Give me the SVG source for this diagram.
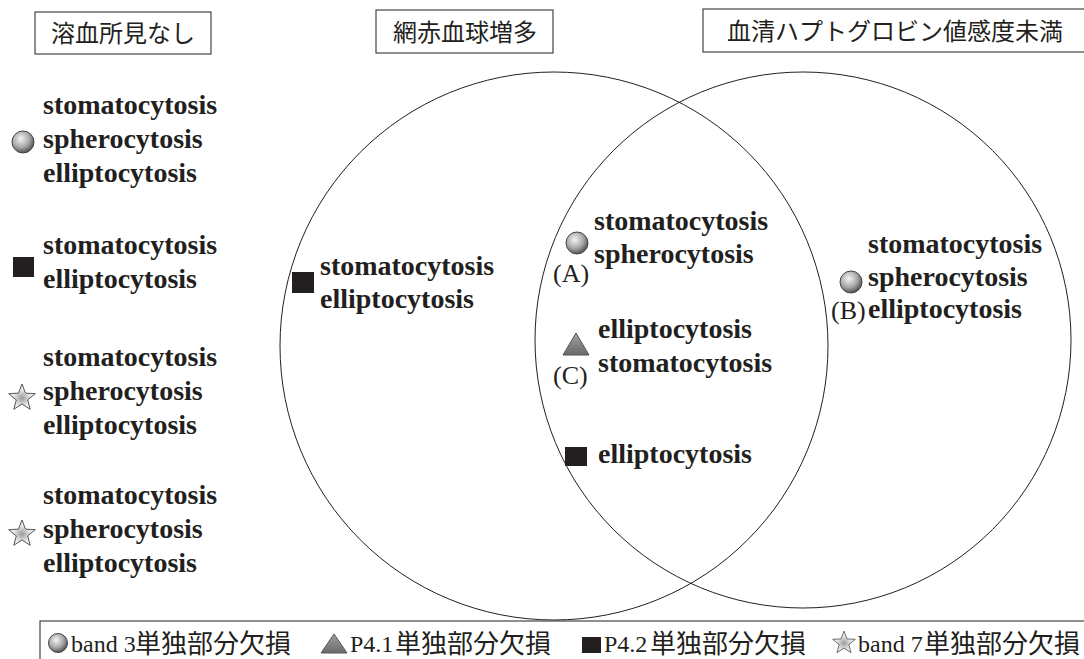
<svg xmlns="http://www.w3.org/2000/svg" width="1084" height="659" viewBox="0 0 1084 659">
<defs>
<radialGradient id="gBall" cx="0.4" cy="0.35" r="0.65">
<stop offset="0" stop-color="#f4f4f4"/>
<stop offset="0.6" stop-color="#a8a8a8"/>
<stop offset="1" stop-color="#555"/>
</radialGradient>
<linearGradient id="gTri" x1="0" y1="0" x2="0" y2="1">
<stop offset="0" stop-color="#a0a0a0"/>
<stop offset="1" stop-color="#6a6a6a"/>
</linearGradient>
<radialGradient id="gStar" cx="0.5" cy="0.55" r="0.5">
<stop offset="0" stop-color="#9c9c9c"/>
<stop offset="0.6" stop-color="#e4e4e4"/>
<stop offset="1" stop-color="#fafafa"/>
</radialGradient>
<circle id="ball" r="11" fill="url(#gBall)" stroke="#444" stroke-width="1"/>
<path id="star" d="M0,-14 L3.53,-4.85 L13.31,-4.33 L5.71,1.85 L8.23,11.33 L0,6 L-8.23,11.33 L-5.71,1.85 L-13.31,-4.33 L-3.53,-4.85 Z" fill="url(#gStar)" stroke="#555" stroke-width="1"/>
</defs>
<style>
.b{font-family:"Liberation Serif",serif;font-weight:bold;font-size:28px;fill:#231f20}
.r{font-family:"Liberation Serif",serif;font-size:26px;fill:#231f20}
.j{font-family:"Noto Sans CJK JP",sans-serif;font-size:24px;fill:#231f20}
.lg{font-family:"Liberation Serif",serif;font-size:24px;fill:#231f20}
.lj{font-family:"Noto Sans CJK JP",sans-serif;font-size:26px;fill:#231f20}
.box{fill:none;stroke:#444;stroke-width:1.2}
.sq{fill:#231f20}
.tri{fill:url(#gTri);stroke:#555;stroke-width:1}
</style>
<rect width="1084" height="659" fill="#fff"/>

<g id="venn-sets" fill="none" stroke="#231f20" stroke-width="1">
<circle cx="554" cy="346" r="274"/>
<circle cx="803" cy="340" r="268"/>
</g>

<g id="header-none">
<rect class="box" x="35" y="12" width="176" height="42"/>
<text class="j" x="123" y="42" text-anchor="middle">溶血所見なし</text>
</g>
<g id="header-retic">
<rect class="box" x="376" y="10" width="177" height="43"/>
<text class="j" x="465" y="41" text-anchor="middle">網赤血球増多</text>
</g>
<g id="header-hapto">
<rect class="box" x="703" y="9" width="390" height="43"/>
<text class="j" x="895" y="40" text-anchor="middle" font-size="25">血清ハプトグロビン値感度未満</text>
</g>

<g id="none-band3">
<use href="#ball" x="23" y="142"/>
<text class="b" x="43" y="114">stomatocytosis</text>
<text class="b" x="43" y="148">spherocytosis</text>
<text class="b" x="43" y="182">elliptocytosis</text>
</g>
<g id="none-p42">
<rect class="sq" x="13" y="257" width="21" height="20"/>
<text class="b" x="43" y="254">stomatocytosis</text>
<text class="b" x="43" y="288">elliptocytosis</text>
</g>
<g id="none-band7-1">
<use href="#star" x="22" y="398"/>
<text class="b" x="43" y="366">stomatocytosis</text>
<text class="b" x="43" y="400">spherocytosis</text>
<text class="b" x="43" y="434">elliptocytosis</text>
</g>
<g id="none-band7-2">
<use href="#star" x="22" y="534"/>
<text class="b" x="43" y="504">stomatocytosis</text>
<text class="b" x="43" y="538">spherocytosis</text>
<text class="b" x="43" y="572">elliptocytosis</text>
</g>

<g id="retic-p42">
<rect class="sq" x="292" y="272" width="22" height="21"/>
<text class="b" x="320" y="275">stomatocytosis</text>
<text class="b" x="320" y="308">elliptocytosis</text>
</g>

<g id="both-A">
<use href="#ball" x="577" y="243"/>
<text class="r" x="553" y="282">(A)</text>
<text class="b" x="594" y="230">stomatocytosis</text>
<text class="b" x="594" y="263">spherocytosis</text>
</g>
<g id="both-C">
<polygon class="tri" points="576,333 589,355 563,355"/>
<text class="r" x="553" y="384">(C)</text>
<text class="b" x="598" y="338">elliptocytosis</text>
<text class="b" x="598" y="372">stomatocytosis</text>
</g>
<g id="both-p42">
<rect class="sq" x="565" y="447" width="22" height="19"/>
<text class="b" x="598" y="463">elliptocytosis</text>
</g>

<g id="hapto-B">
<use href="#ball" x="851" y="282"/>
<text class="r" x="831" y="319">(B)</text>
<text class="b" x="868" y="253">stomatocytosis</text>
<text class="b" x="868" y="286">spherocytosis</text>
<text class="b" x="868" y="318">elliptocytosis</text>
</g>

<g id="legend">
<rect class="box" x="40" y="621" width="1100" height="100"/>
<circle cx="58" cy="643" r="9.5" fill="url(#gBall)" stroke="#444" stroke-width="1"/>
<text class="lg" x="71" y="652">band 3</text>
<text class="lj" x="135" y="653">単独部分欠損</text>
<polygon class="tri" points="334,634 347,653 321,653"/>
<text class="lg" x="350" y="652">P4.1</text>
<text class="lj" x="395" y="653">単独部分欠損</text>
<rect class="sq" x="582" y="637" width="19" height="16"/>
<text class="lg" x="604" y="652">P4.2</text>
<text class="lj" x="650" y="653">単独部分欠損</text>
<use href="#star" transform="translate(844 643) scale(0.85)"/>
<text class="lg" x="858" y="652">band 7</text>
<text class="lj" x="924" y="653">単独部分欠損</text>
</g>
</svg>
